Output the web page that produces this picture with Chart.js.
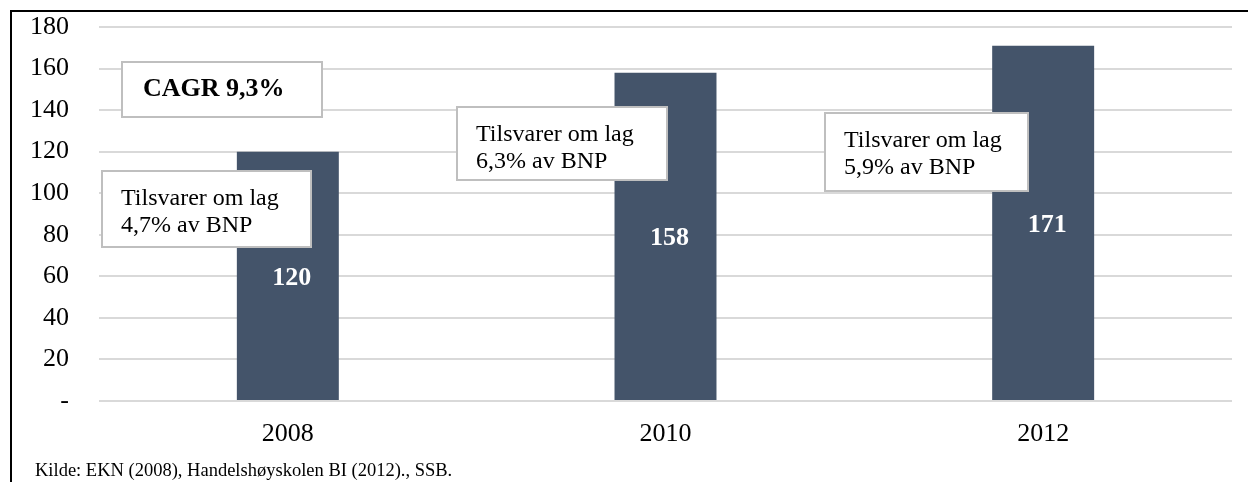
<!DOCTYPE html>
<html>
<head>
<meta charset="utf-8">
<script src="https://cdn.jsdelivr.net/npm/chart.js@4"></script>
<style>
  body { margin: 0; background: #fff; overflow: hidden; }
  #wrap { position: relative; width: 1248px; height: 482px; }
  #frame { position: absolute; left: 10px; top: 10px; width: 1300px; height: 600px;
           border-left: 2px solid #000; border-top: 2px solid #000; }
  #source { position: absolute; left: 35px; top: 460px; font: 18.5px "Liberation Serif", "Times New Roman", serif; color: #000; white-space: nowrap; }
  canvas { position: absolute; left: 0; top: 0; }
</style>
</head>
<body>
<div id="wrap">
  <div id="frame"></div>
  <canvas id="chart" width="1248" height="482"></canvas>
  <div id="source">Kilde: EKN (2008), Handelshøyskolen BI (2012)., SSB.</div>
</div>
<script>
// data
const years = ['2008', '2010', '2012'];
const values = [120, 158, 171];
const cagrText = ['CAGR 9,3%'];
const bnpText = [
  ['Tilsvarer om lag', '4,7% av BNP'],
  ['Tilsvarer om lag', '6,3% av BNP'],
  ['Tilsvarer om lag', '5,9% av BNP']
];

const serif = '"Liberation Serif", "Times New Roman", serif';

// note boxes: anchored to a category and a y value
const boxes = [
  { idx: 0, dx: -166, top: 163, w: 200, h: 55, lines: cagrText, bold: true },
  { idx: 0, dx: -186, top: 110.5, w: 209, h: 76, lines: bnpText[0] },
  { idx: 1, dx: -209, top: 141.3, w: 210, h: 73, lines: bnpText[1] },
  { idx: 2, dx: -218, top: 138.5, w: 203, h: 78, lines: bnpText[2] }
];

const labelsPlugin = {
  id: 'labels',
  afterDatasetsDraw(chart) {
    const ctx = chart.ctx;
    const meta = chart.getDatasetMeta(0);
    const xs = chart.scales.x, ys = chart.scales.y;

    // value labels in the middle of each bar
    ctx.save();
    ctx.fillStyle = '#fff';
    ctx.font = 'bold 26px ' + serif;
    ctx.textAlign = 'center';
    ctx.textBaseline = 'middle';
    meta.data.forEach((bar, i) => {
      const p = bar.getProps(['x', 'y', 'base'], true);
      ctx.fillText(values[i], p.x + 4, (p.y + p.base) / 2 + 2);
    });
    ctx.restore();

    // note boxes
    boxes.forEach(b => {
      const x = Math.round(xs.getPixelForValue(b.idx) + b.dx);
      const y = Math.round(ys.getPixelForValue(b.top));
      ctx.save();
      ctx.fillStyle = '#fff';
      ctx.fillRect(x, y, b.w, b.h);
      ctx.strokeStyle = '#bfbfbf';
      ctx.lineWidth = 2;
      ctx.strokeRect(x, y, b.w, b.h);
      ctx.fillStyle = '#000';
      ctx.textBaseline = 'alphabetic';
      if (b.bold) {
        ctx.font = 'bold 26px ' + serif;
        ctx.fillText(b.lines[0], x + 21, y + 34);
      } else {
        ctx.font = '24px ' + serif;
        b.lines.forEach((t, k) => ctx.fillText(t, x + 19, y + 34 + k * 27));
      }
      ctx.restore();
    });
  }
};

new Chart(document.getElementById('chart'), {
  type: 'bar',
  data: {
    labels: years,
    datasets: [{
      data: values,
      backgroundColor: '#44546a',
      borderWidth: 0,
      categoryPercentage: 1,
      barPercentage: 0.27
    }]
  },
  options: {
    responsive: false,
    animation: false,
    layout: { padding: { left: 0, right: 16, top: 27, bottom: 0 } },
    plugins: {
      legend: { display: false },
      tooltip: { enabled: false }
    },
    scales: {
      x: {
        grid: { display: false },
        border: { display: false },
        ticks: { color: '#000', font: { family: serif, size: 26 }, padding: 10 },
        afterFit(scale) { scale.height = 81; }
      },
      y: {
        min: 0,
        max: 180,
        grid: { color: '#d9d9d9', lineWidth: 2, drawTicks: false },
        border: { display: false },
        ticks: {
          stepSize: 20,
          color: '#000',
          font: { family: serif, size: 26 },
          padding: 30,
          callback: v => v === 0 ? '-' : v
        },
        afterFit(scale) {
          scale.width = 99;
          scale.paddingTop = 0;
          scale.paddingBottom = 0;
        }
      }
    }
  },
  plugins: [labelsPlugin]
});
</script>
</body>
</html>
